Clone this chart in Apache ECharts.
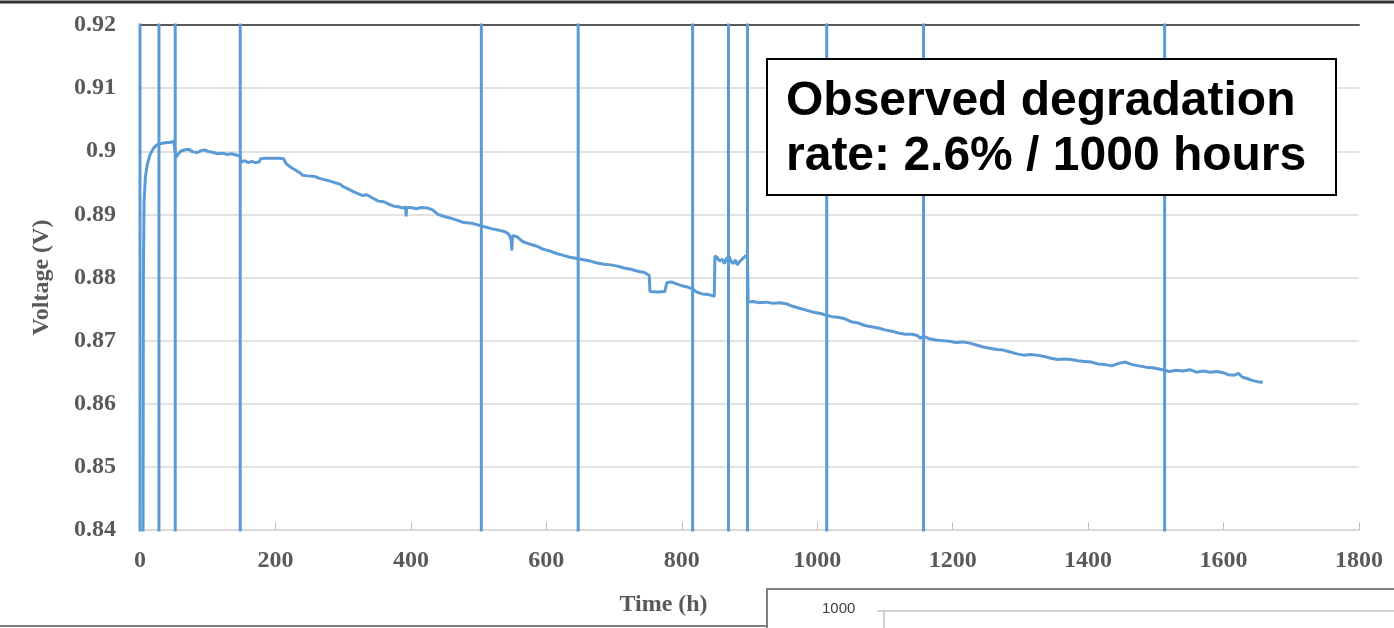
<!DOCTYPE html>
<html>
<head>
<meta charset="utf-8">
<title>Voltage vs Time</title>
<script src="https://cdn.jsdelivr.net/npm/echarts@6/dist/echarts.min.js"></script>
<style>
  html, body { margin: 0; padding: 0; background: #fff; }
  #main { width: 1394px; height: 628px; }
</style>
</head>
<body>
<div id="main"></div>
<script>
// 测试数据
var hours = [4, 5, 6, 8, 11, 15, 20, 25, 30, 35, 40, 45, 50, 52,
  53, 56, 60, 65, 72, 78, 85, 90, 95, 100, 108, 115, 122, 128, 135, 142, 148,
  149, 155, 160, 165, 170, 176, 178, 185, 195, 205, 212, 216, 222, 230, 236, 240,
  248, 258, 265, 272, 280, 288, 295, 300, 308, 315, 322, 328, 335, 340, 345, 352,
  360, 368, 375, 382, 388, 392, 393, 394, 400, 408, 415, 425, 432, 440, 448, 455,
  462, 470, 478, 490, 500, 510, 520, 530, 540, 545, 548, 549, 550, 556, 565, 575,
  585, 595, 605, 615, 625, 635, 645, 655, 665, 675, 685, 695, 705, 715, 725, 735,
  745, 752, 753, 765, 775, 777, 778, 785, 792, 800, 808, 815, 822, 830, 840, 848,
  849, 852, 856, 860, 863, 866, 870, 873, 876, 879, 882, 886, 890, 894, 897,
  898, 905, 915, 925, 935, 945, 955, 965, 975, 985, 995, 1005, 1014, 1022, 1030,
  1040, 1050, 1060, 1070, 1080, 1090, 1100, 1110, 1120, 1130, 1140, 1148, 1152,
  1157, 1165, 1175, 1185, 1195, 1205, 1215, 1225, 1235, 1245, 1255, 1265, 1275,
  1285, 1295, 1305, 1315, 1325, 1335, 1345, 1355, 1365, 1375, 1385, 1395, 1405,
  1415, 1425, 1435, 1445, 1455, 1465, 1475, 1485, 1495, 1505, 1513, 1520, 1530,
  1540, 1550, 1560, 1570, 1580, 1590, 1600, 1607, 1615, 1622, 1628, 1635, 1642,
  1650, 1658];

var volts = [0.800, 0.880, 0.892, 0.896, 0.898, 0.8995, 0.9005, 0.9010, 0.9012, 0.9013, 0.9014, 0.9014, 0.9016, 0.9016,
  0.8990, 0.8995, 0.9000, 0.9002, 0.9003, 0.8999, 0.8998, 0.9001, 0.9002, 0.9000, 0.8998, 0.8996, 0.8997, 0.8995, 0.8996, 0.8994, 0.8992,
  0.8983, 0.8985, 0.8982, 0.8984, 0.8982, 0.8983, 0.8988, 0.8989, 0.8989, 0.8989, 0.8988, 0.8980, 0.8975, 0.8970, 0.8966, 0.8962,
  0.8961, 0.8960, 0.8957, 0.8955, 0.8953, 0.8950, 0.8948, 0.8944, 0.8940, 0.8936, 0.8933, 0.8930, 0.8931, 0.8928, 0.8925, 0.8921,
  0.8920, 0.8916, 0.8913, 0.8912, 0.8910, 0.8912, 0.8897, 0.8911, 0.8911, 0.8909, 0.8911, 0.8910, 0.8907, 0.8900, 0.8897, 0.8895,
  0.8893, 0.8890, 0.8887, 0.8886, 0.8883, 0.8880, 0.8877, 0.8875, 0.8872, 0.8868, 0.8860, 0.8843, 0.8866, 0.8865, 0.8857, 0.8853,
  0.8850, 0.8845, 0.8842, 0.8838, 0.8835, 0.8832, 0.8830, 0.8828, 0.8826, 0.8823, 0.8821, 0.8820, 0.8818, 0.8815, 0.8813, 0.8810,
  0.8808, 0.8803, 0.8778, 0.8777, 0.8778, 0.8778, 0.8792, 0.8793, 0.8790, 0.8787, 0.8785, 0.8782, 0.8777, 0.8774, 0.8773, 0.8770,
  0.8834, 0.8832, 0.8826, 0.8829, 0.8822, 0.8830, 0.8833, 0.8825, 0.8822, 0.8828, 0.8820, 0.8826, 0.8830, 0.8834, 0.8835,
  0.8761, 0.8762, 0.8760, 0.8761, 0.8759, 0.8760, 0.8758, 0.8754, 0.8751, 0.8748, 0.8745, 0.8743, 0.8740, 0.8738, 0.8737,
  0.8735, 0.8730, 0.8728, 0.8724, 0.8722, 0.8720, 0.8717, 0.8715, 0.8712, 0.8710, 0.8710, 0.8708, 0.8704,
  0.8707, 0.8703, 0.8701, 0.8700, 0.8699, 0.8697, 0.8698, 0.8696, 0.8693, 0.8690, 0.8688, 0.8686, 0.8685,
  0.8682, 0.8679, 0.8677, 0.8678, 0.8677, 0.8675, 0.8672, 0.8670, 0.8671, 0.8670, 0.8668, 0.8667, 0.8666,
  0.8663, 0.8662, 0.8660, 0.8664, 0.8666, 0.8662, 0.8660, 0.8658, 0.8657, 0.8655, 0.8653, 0.8651, 0.8653,
  0.8652, 0.8654, 0.8650, 0.8652, 0.8650, 0.8651, 0.8649, 0.8646, 0.8645, 0.8648, 0.8642, 0.8640, 0.8637,
  0.8635, 0.8634];

// 停机/重启时刻 (电压跳到开路电压再到 0)
var spikeHours = [0, 28, 52, 148, 504, 647, 816, 869, 897, 1014, 1157, 1513];
var ocvVolt = 1.0;
var offVolt = 0;

var xTicks = [0, 200, 400, 600, 800, 1000, 1200, 1400, 1600, 1800];
var yTicks = [0.84, 0.85, 0.86, 0.87, 0.88, 0.89, 0.9, 0.91, 0.92];

var lineData = hours.map(function (h, i) { return [h, volts[i]]; });
var spikeData = [];
spikeHours.forEach(function (h) {
  spikeData.push([h, offVolt], [h, ocvVolt], '-');
});

var blue = '#5B9BD5';
var axisFont = { fontFamily: 'Liberation Serif', fontWeight: 'bold', fontSize: 24, color: '#595959' };

var myChart = echarts.init(document.getElementById('main'));
var option = {
  animation: false,
  grid: { left: 140, right: 35, top: 25, bottom: 98 },
  xAxis: [{
    type: 'value',
    min: xTicks[0], max: xTicks[xTicks.length - 1], interval: 200,
    name: 'Time (h)', nameLocation: 'middle', nameGap: 63,
    nameTextStyle: Object.assign({ padding: [0, 172, 0, 0] }, axisFont),
    axisLine: { lineStyle: { color: '#d9d9d9', width: 2 } },
    axisTick: { show: true, inside: true, length: 8, lineStyle: { color: '#bfbfbf' } },
    axisLabel: Object.assign({
      margin: 19,
      formatter: function (v) { return String(v); }
    }, axisFont),
    splitLine: { show: false }
  }, {
    type: 'value', position: 'top',
    min: xTicks[0], max: xTicks[xTicks.length - 1],
    axisLine: { show: true, lineStyle: { color: '#595959', width: 2 } },
    axisTick: { show: false }, axisLabel: { show: false }, splitLine: { show: false }
  }],
  yAxis: [{
    type: 'value',
    min: yTicks[0], max: yTicks[yTicks.length - 1], interval: 0.01,
    name: 'Voltage (V)', nameLocation: 'middle', nameGap: 86,
    nameTextStyle: axisFont,
    axisLine: { show: false },
    axisTick: { show: false },
    axisLabel: Object.assign({
      margin: 24,
      formatter: function (v) { return String(+v.toFixed(2)); }
    }, axisFont),
    splitLine: { lineStyle: { color: '#d9d9d9', width: 1.5 } }
  }, {
    type: 'value', position: 'right',
    min: yTicks[0], max: yTicks[yTicks.length - 1],
    axisLine: { show: true, lineStyle: { color: '#595959', width: 2 } },
    axisTick: { show: false }, axisLabel: { show: false }, splitLine: { show: false }
  }],
  series: [{
    name: 'Voltage',
    type: 'line',
    data: lineData,
    showSymbol: false,
    clip: true,
    lineStyle: { color: blue, width: 3 }
  }, {
    name: 'Shutdown',
    type: 'line',
    data: spikeData,
    showSymbol: false,
    clip: true,
    lineStyle: { color: blue, width: 3 }
  }],
  graphic: [
    // 标注框
    {
      type: 'rect', left: 766, top: 58, z: 100,
      shape: { width: 569, height: 136 },
      style: { fill: '#fff', stroke: '#000', lineWidth: 2 }
    },
    {
      type: 'text', left: 786, top: 74, z: 101,
      style: {
        text: 'Observed degradation\nrate: 2.6% / 1000 hours',
        font: 'bold 48px "Liberation Sans", Arial, sans-serif',
        fill: '#000', lineHeight: 55
      }
    },
    // 页面边框
    { type: 'line', z: 100, shape: { x1: 0, y1: 2, x2: 1394, y2: 2 }, style: { stroke: '#333', lineWidth: 3 } },
    { type: 'line', z: 100, shape: { x1: 0, y1: 626, x2: 766, y2: 626 }, style: { stroke: '#808080', lineWidth: 2 } },
    { type: 'rect', z: 100, shape: { x: 767, y: 589, width: 640, height: 60 }, style: { fill: '#fff', stroke: '#7f7f7f', lineWidth: 2 } },
    {
      type: 'text', left: 822, top: 601, z: 101,
      style: { text: '1000', font: '15px "Liberation Sans", Arial, sans-serif', fill: '#404040' }
    },
    { type: 'line', z: 101, shape: { x1: 877, y1: 611, x2: 1394, y2: 611 }, style: { stroke: '#bfbfbf', lineWidth: 1.5 } },
    { type: 'line', z: 101, shape: { x1: 884, y1: 611, x2: 884, y2: 628 }, style: { stroke: '#bfbfbf', lineWidth: 1.5 } }
  ]
};
myChart.setOption(option);
</script>
</body>
</html>
